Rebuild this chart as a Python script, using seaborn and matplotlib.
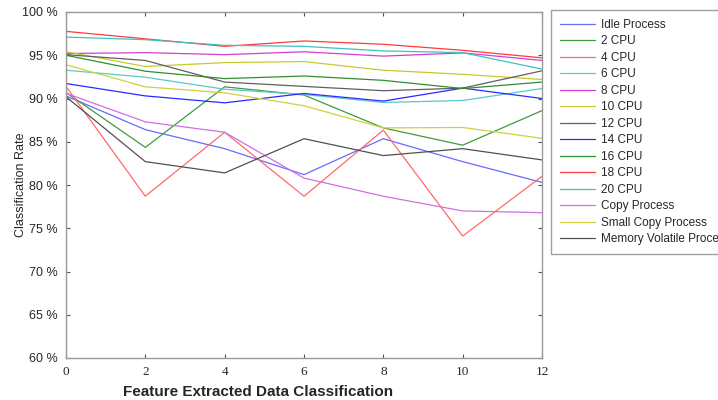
import numpy as np
import pandas as pd
import seaborn as sns
import matplotlib.pyplot as plt

plt.rcParams['figure.dpi'] = 100
plt.rcParams['savefig.dpi'] = 100

steps = [0, 2, 4, 6, 8, 10, 12]

idle = [90.3, 86.4, 84.2, 81.2, 85.35, 82.7, 80.3]
cpu2 = [90.7, 84.35, 91.35, 90.4, 86.6, 84.6, 88.6]
cpu4 = [91.4, 78.7, 86.1, 78.7, 86.35, 74.1, 81.0]
cpu6 = [93.27, 92.46, 91.07, 90.46, 89.54, 89.77, 91.15]
cpu8 = [95.2, 95.3, 95.07, 95.4, 94.9, 95.27, 94.4]
cpu10 = [95.4, 93.7, 94.15, 94.27, 93.27, 92.8, 92.2]
cpu12 = [95.07, 94.4, 91.9, 91.4, 90.9, 91.2, 93.2]
cpu14 = [91.73, 90.3, 89.5, 90.58, 89.7, 91.2, 90.0]
cpu16 = [95.0, 93.15, 92.3, 92.6, 92.1, 91.15, 91.9]
cpu18 = [97.76, 96.9, 96.03, 96.65, 96.27, 95.57, 94.7]
cpu20 = [97.1, 96.8, 96.15, 96.03, 95.5, 95.3, 93.4]
copy_proc = [90.6, 87.3, 86.1, 80.8, 78.7, 77.0, 76.8]
small_copy = [93.9, 91.35, 90.66, 89.16, 86.6, 86.65, 85.4]
mem_volatile = [90.2, 82.7, 81.4, 85.35, 83.4, 84.2, 82.9]

names = ['Idle Process', '2 CPU', '4 CPU', '6 CPU', '8 CPU', '10 CPU', '12 CPU',
         '14 CPU', '16 CPU', '18 CPU', '20 CPU', 'Copy Process',
         'Small Copy Process', 'Memory Volatile Process']
series = [idle, cpu2, cpu4, cpu6, cpu8, cpu10, cpu12, cpu14, cpu16, cpu18,
          cpu20, copy_proc, small_copy, mem_volatile]
colors = ['#6a6aff', '#3f9a3f', '#ff6a6a', '#5cc8c8', '#d040d0', '#c8c830',
          '#606060', '#2a2aff', '#2f8f2f', '#ff3a3a', '#40c0c0', '#d070e0',
          '#d0d040', '#505050']

rows = []
for n, vals in zip(names, series):
    for s, v in zip(steps, vals):
        rows.append({'step': s, 'rate': v, 'series': n})
df = pd.DataFrame(rows)

sns.set_style('white')
plt.rcParams['font.family'] = ['Liberation Sans', 'DejaVu Sans']

fig = plt.figure(figsize=(7.18, 4.0))
ax = fig.add_axes([66 / 718, 1 - 358 / 400, 476 / 718, 346 / 400])

sns.lineplot(data=df, x='step', y='rate', hue='series', hue_order=names,
             palette=dict(zip(names, colors)), linewidth=0.9, ax=ax,
             legend=True)

ax.set_xlim(0, 12)
ax.set_ylim(60, 100)
ax.set_xticks(steps)
ax.set_xticklabels([str(s) for s in steps], family='Liberation Serif', fontsize=9.5)
ax.set_yticks(range(60, 101, 5))
ax.set_yticklabels([f'{v} %' for v in range(60, 101, 5)], fontsize=9)
ax.tick_params(direction='in', length=3, color='#555555', top=True, right=True,
               bottom=True, left=True, pad=6)
for sp in ax.spines.values():
    sp.set_color('#999999')
    sp.set_linewidth(1.0)

ax.set_ylabel('Classification Rate', fontsize=9)
ax.yaxis.set_label_coords(-0.082, 0.5)
ax.set_xlabel('Feature Extracted Data Classification', fontsize=11, fontweight='bold')
ax.xaxis.set_label_coords((258 - 66) / 476, -0.078)

handles, labels = ax.get_legend_handles_labels()
ax.legend(handles, labels, loc='upper left', bbox_to_anchor=(551 / 718, 1 - 10 / 400),
          bbox_transform=fig.transFigure, fontsize=8.5, frameon=True, fancybox=False,
          edgecolor='#888888', handlelength=3.0, handletextpad=0.45,
          labelspacing=0.38, borderpad=0.75, borderaxespad=0)

fig.savefig('out.png')
